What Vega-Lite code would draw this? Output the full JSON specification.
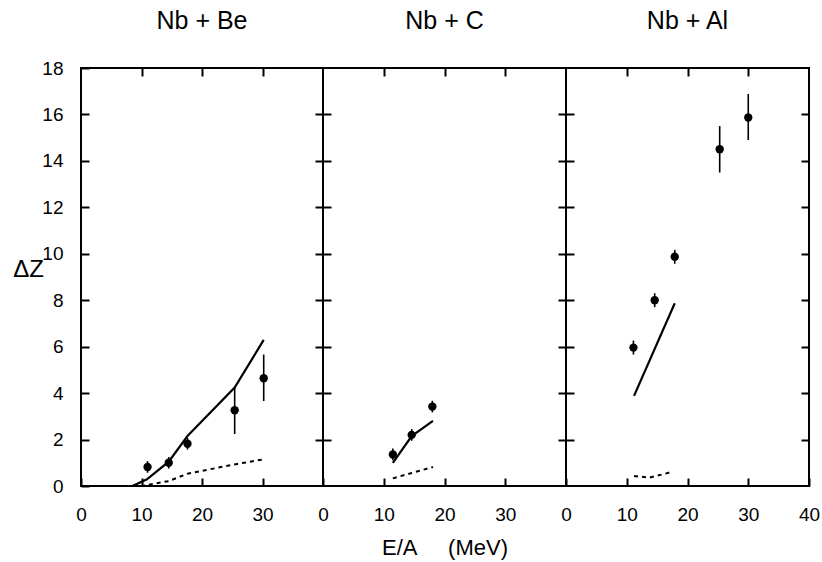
{
  "$schema": "https://vega.github.io/schema/vega-lite/v6.json",
  "background": "white",
  "padding": {"left": 11, "top": 8, "right": 2, "bottom": 2},
  "spacing": 0,
  "bounds": "flush",
  "datasets": {
    "pts": [
      {"sys": "Be", "E": 11.0, "dz": 0.82, "lo": 0.57, "hi": 1.07},
      {"sys": "Be", "E": 14.5, "dz": 1.0, "lo": 0.75, "hi": 1.25},
      {"sys": "Be", "E": 17.6, "dz": 1.82, "lo": 1.57, "hi": 2.07},
      {"sys": "Be", "E": 25.4, "dz": 3.26, "lo": 2.24, "hi": 4.24},
      {"sys": "Be", "E": 30.2, "dz": 4.64, "lo": 3.66, "hi": 5.66},
      {"sys": "C", "E": 11.5, "dz": 1.36, "lo": 1.11, "hi": 1.61},
      {"sys": "C", "E": 14.6, "dz": 2.2, "lo": 1.95, "hi": 2.45},
      {"sys": "C", "E": 18.0, "dz": 3.42, "lo": 3.17, "hi": 3.67},
      {"sys": "Al", "E": 11.1, "dz": 5.96, "lo": 5.66, "hi": 6.26},
      {"sys": "Al", "E": 14.6, "dz": 8.0, "lo": 7.7, "hi": 8.3},
      {"sys": "Al", "E": 17.9, "dz": 9.87, "lo": 9.57, "hi": 10.17},
      {"sys": "Al", "E": 25.3, "dz": 14.5, "lo": 13.5, "hi": 15.5},
      {"sys": "Al", "E": 30.0, "dz": 15.87, "lo": 14.9, "hi": 16.88}
    ],
    "th": [
      {"sys": "Be", "kind": "full", "E": 8.5, "dz": 0.0},
      {"sys": "Be", "kind": "full", "E": 10.9, "dz": 0.29},
      {"sys": "Be", "kind": "full", "E": 14.5, "dz": 1.05},
      {"sys": "Be", "kind": "full", "E": 17.6, "dz": 2.15},
      {"sys": "Be", "kind": "full", "E": 25.4, "dz": 4.24},
      {"sys": "Be", "kind": "full", "E": 30.2, "dz": 6.29},
      {"sys": "Be", "kind": "part", "E": 9.9, "dz": 0.0},
      {"sys": "Be", "kind": "part", "E": 14.5, "dz": 0.21},
      {"sys": "Be", "kind": "part", "E": 17.6, "dz": 0.53},
      {"sys": "Be", "kind": "part", "E": 25.4, "dz": 0.93},
      {"sys": "Be", "kind": "part", "E": 30.2, "dz": 1.15},
      {"sys": "C", "kind": "full", "E": 11.5, "dz": 1.0},
      {"sys": "C", "kind": "full", "E": 14.6, "dz": 2.15},
      {"sys": "C", "kind": "full", "E": 18.1, "dz": 2.8},
      {"sys": "C", "kind": "part", "E": 11.5, "dz": 0.33},
      {"sys": "C", "kind": "part", "E": 18.1, "dz": 0.82},
      {"sys": "Al", "kind": "full", "E": 11.2, "dz": 3.88},
      {"sys": "Al", "kind": "full", "E": 17.9, "dz": 7.87},
      {"sys": "Al", "kind": "part", "E": 11.2, "dz": 0.43},
      {"sys": "Al", "kind": "part", "E": 13.7, "dz": 0.36},
      {"sys": "Al", "kind": "part", "E": 15.9, "dz": 0.5},
      {"sys": "Al", "kind": "part", "E": 17.3, "dz": 0.6}
    ]
  },
  "hconcat": [
    {
      "width": 242, "height": 418,
      "title": {"text": "Nb + Be", "offset": 25},
      "resolve": {"axis": {"x": "independent", "y": "independent"}},
      "layer": [
        {
          "data": {"name": "pts"},
          "transform": [{"filter": "datum.sys == 'Be'"}],
          "mark": {"type": "rule", "color": "black", "strokeWidth": 1.6},
          "encoding": {
            "x": {"field": "E", "type": "quantitative", "scale": {"domain": [0, 40], "nice": false},
                  "axis": {"orient": "bottom", "values": [0, 10, 20, 30], "title": null}},
            "y": {"field": "lo", "type": "quantitative", "scale": {"domain": [0, 18], "nice": false},
                  "axis": {"orient": "left", "values": [0, 2, 4, 6, 8, 10, 12, 14, 16, 18], "labelPadding": 26,
                           "title": "ΔZ", "titleAngle": 0, "titleFontSize": 24, "titleX": -53, "titleY": 201,
                           "titleAlign": "center", "titleBaseline": "middle"}},
            "y2": {"field": "hi"}
          }
        },
        {
          "data": {"name": "th"},
          "transform": [{"filter": "datum.sys == 'Be' && datum.kind == 'full'"}],
          "mark": {"type": "line", "color": "black", "strokeWidth": 2.2},
          "encoding": {
            "x": {"field": "E", "type": "quantitative", "scale": {"domain": [0, 40], "nice": false},
                  "axis": {"orient": "top", "values": [10, 20, 30], "labels": false, "title": null}},
            "y": {"field": "dz", "type": "quantitative", "scale": {"domain": [0, 18], "nice": false},
                  "axis": {"orient": "right", "values": [2, 4, 6, 8, 10, 12, 14, 16], "labels": false, "title": null}}
          }
        },
        {
          "data": {"name": "th"},
          "transform": [{"filter": "datum.sys == 'Be' && datum.kind == 'part'"}],
          "mark": {"type": "line", "color": "black", "strokeWidth": 2, "strokeDash": [4, 4]},
          "encoding": {
            "x": {"field": "E", "type": "quantitative", "scale": {"domain": [0, 40], "nice": false}, "axis": null},
            "y": {"field": "dz", "type": "quantitative", "scale": {"domain": [0, 18], "nice": false}, "axis": null}
          }
        },
        {
          "data": {"name": "pts"},
          "transform": [{"filter": "datum.sys == 'Be'"}],
          "mark": {"type": "point", "filled": true, "color": "black", "opacity": 1, "size": 70},
          "encoding": {
            "x": {"field": "E", "type": "quantitative", "scale": {"domain": [0, 40], "nice": false}, "axis": null},
            "y": {"field": "dz", "type": "quantitative", "scale": {"domain": [0, 18], "nice": false}, "axis": null}
          }
        }
      ]
    },
    {
      "width": 243, "height": 418,
      "title": {"text": "Nb + C"},
      "resolve": {"axis": {"x": "independent", "y": "independent"}},
      "layer": [
        {
          "data": {"name": "pts"},
          "transform": [{"filter": "datum.sys == 'C'"}],
          "mark": {"type": "rule", "color": "black", "strokeWidth": 1.6},
          "encoding": {
            "x": {"field": "E", "type": "quantitative", "scale": {"domain": [0, 40], "nice": false},
                  "axis": {"orient": "bottom", "values": [0, 10, 20, 30], "title": "E/A\u00a0\u00a0\u00a0\u00a0\u00a0(MeV)"}},
            "y": {"field": "lo", "type": "quantitative", "scale": {"domain": [0, 18], "nice": false},
                  "axis": {"orient": "left", "values": [2, 4, 6, 8, 10, 12, 14, 16], "labels": false, "title": null}},
            "y2": {"field": "hi"}
          }
        },
        {
          "data": {"name": "th"},
          "transform": [{"filter": "datum.sys == 'C' && datum.kind == 'full'"}],
          "mark": {"type": "line", "color": "black", "strokeWidth": 2.2},
          "encoding": {
            "x": {"field": "E", "type": "quantitative", "scale": {"domain": [0, 40], "nice": false},
                  "axis": {"orient": "top", "values": [10, 20, 30], "labels": false, "title": null}},
            "y": {"field": "dz", "type": "quantitative", "scale": {"domain": [0, 18], "nice": false},
                  "axis": {"orient": "right", "values": [2, 4, 6, 8, 10, 12, 14, 16], "labels": false, "title": null}}
          }
        },
        {
          "data": {"name": "th"},
          "transform": [{"filter": "datum.sys == 'C' && datum.kind == 'part'"}],
          "mark": {"type": "line", "color": "black", "strokeWidth": 2, "strokeDash": [4, 4]},
          "encoding": {
            "x": {"field": "E", "type": "quantitative", "scale": {"domain": [0, 40], "nice": false}, "axis": null},
            "y": {"field": "dz", "type": "quantitative", "scale": {"domain": [0, 18], "nice": false}, "axis": null}
          }
        },
        {
          "data": {"name": "pts"},
          "transform": [{"filter": "datum.sys == 'C'"}],
          "mark": {"type": "point", "filled": true, "color": "black", "opacity": 1, "size": 70},
          "encoding": {
            "x": {"field": "E", "type": "quantitative", "scale": {"domain": [0, 40], "nice": false}, "axis": null},
            "y": {"field": "dz", "type": "quantitative", "scale": {"domain": [0, 18], "nice": false}, "axis": null}
          }
        }
      ]
    },
    {
      "width": 243, "height": 418,
      "title": {"text": "Nb + Al"},
      "resolve": {"axis": {"x": "independent", "y": "independent"}},
      "layer": [
        {
          "data": {"name": "pts"},
          "transform": [{"filter": "datum.sys == 'Al'"}],
          "mark": {"type": "rule", "color": "black", "strokeWidth": 1.6},
          "encoding": {
            "x": {"field": "E", "type": "quantitative", "scale": {"domain": [0, 40], "nice": false},
                  "axis": {"orient": "bottom", "values": [0, 10, 20, 30, 40], "title": null}},
            "y": {"field": "lo", "type": "quantitative", "scale": {"domain": [0, 18], "nice": false},
                  "axis": {"orient": "left", "values": [2, 4, 6, 8, 10, 12, 14, 16], "labels": false, "title": null}},
            "y2": {"field": "hi"}
          }
        },
        {
          "data": {"name": "th"},
          "transform": [{"filter": "datum.sys == 'Al' && datum.kind == 'full'"}],
          "mark": {"type": "line", "color": "black", "strokeWidth": 2.2},
          "encoding": {
            "x": {"field": "E", "type": "quantitative", "scale": {"domain": [0, 40], "nice": false},
                  "axis": {"orient": "top", "values": [10, 20, 30], "labels": false, "title": null}},
            "y": {"field": "dz", "type": "quantitative", "scale": {"domain": [0, 18], "nice": false},
                  "axis": {"orient": "right", "values": [2, 4, 6, 8, 10, 12, 14, 16], "labels": false, "title": null}}
          }
        },
        {
          "data": {"name": "th"},
          "transform": [{"filter": "datum.sys == 'Al' && datum.kind == 'part'"}],
          "mark": {"type": "line", "color": "black", "strokeWidth": 2, "strokeDash": [4, 4]},
          "encoding": {
            "x": {"field": "E", "type": "quantitative", "scale": {"domain": [0, 40], "nice": false}, "axis": null},
            "y": {"field": "dz", "type": "quantitative", "scale": {"domain": [0, 18], "nice": false}, "axis": null}
          }
        },
        {
          "data": {"name": "pts"},
          "transform": [{"filter": "datum.sys == 'Al'"}],
          "mark": {"type": "point", "filled": true, "color": "black", "opacity": 1, "size": 70},
          "encoding": {
            "x": {"field": "E", "type": "quantitative", "scale": {"domain": [0, 40], "nice": false}, "axis": null},
            "y": {"field": "dz", "type": "quantitative", "scale": {"domain": [0, 18], "nice": false}, "axis": null}
          }
        }
      ]
    }
  ],
  "config": {
    "font": "Liberation Sans",
    "view": {"stroke": "black", "strokeWidth": 2},
    "title": {"fontSize": 25, "fontWeight": "normal", "color": "black", "offset": 33, "anchor": "middle"},
    "axis": {
      "domain": false, "grid": false,
      "tickSize": -8, "tickWidth": 2, "tickColor": "black",
      "labelFontSize": 19, "labelColor": "black", "labelPadding": 27,
      "labelOverlap": false, "labelFlush": false, "labelBound": false,
      "titleFontSize": 22, "titleFontWeight": "normal", "titleColor": "black", "titlePadding": 13
    }
  }
}
